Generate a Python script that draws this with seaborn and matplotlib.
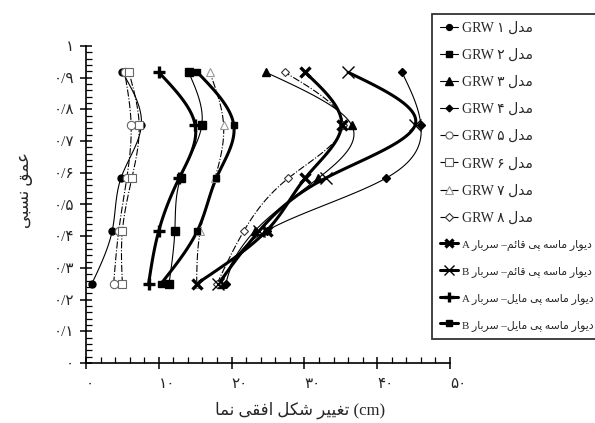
import numpy as np
import matplotlib
matplotlib.use('Agg')
import matplotlib.pyplot as plt
from matplotlib.lines import Line2D
from matplotlib.ticker import MultipleLocator
import seaborn as sns

# relative depth levels (same for every series)
depth = [0.25, 0.417, 0.583, 0.75, 0.917]

# horizontal facade deformation (cm), bottom -> top
grw1 = [0.8, 3.6, 4.8, 7.6, 5.0]
grw2 = [11.4, 12.2, 13.0, 15.9, 14.1]
grw3 = [18.6, 23.2, 31.9, 36.5, 24.7]
grw4 = [19.2, 24.8, 41.2, 46.0, 43.4]
grw5 = [3.8, 4.5, 5.6, 6.2, 5.3]
grw6 = [5.0, 5.0, 6.3, 7.3, 5.9]
grw7 = [15.2, 15.7, 17.7, 18.9, 17.0]
grw8 = [18.0, 21.7, 27.8, 35.3, 27.3]
vert_a = [15.2, 24.8, 30.1, 35.1, 30.1]
vert_b = [18.2, 23.8, 32.9, 45.2, 36.0]
slope_a = [8.6, 10.0, 12.8, 15.0, 10.0]
slope_b = [10.3, 15.3, 17.9, 20.3, 15.3]

x_ticks = [0, 10, 20, 30, 40, 50]
x_labels = ['۰', '۱۰', '۲۰', '۳۰', '۴۰', '۵۰']
y_ticks = [0, 0.1, 0.2, 0.3, 0.4, 0.5, 0.6, 0.7, 0.8, 0.9, 1.0]
y_labels = ['۰', '۰/۱', '۰/۲', '۰/۳', '۰/۴', '۰/۵', '۰/۶', '۰/۷', '۰/۸', '۰/۹', '۱']

# persian words in visual (left-to-right) order, presentation forms
MODEL = '\uFEDD\uFEAA\uFEE3'
SARBAR = '\uFEAD\uFE8E\uFE91\uFEAE\uFEB3'
QAEM = '\uFEE2\uFE8B\uFE8E\uFED7'
MAYEL = '\uFEDE\uFBFE\uFE8E\uFEE3'
PEY = '\uFBFD\uFB58'
MASEH = '\uFEEA\uFEB3\uFE8E\uFEE3'
DIVAR = '\uFEAD\uFE8E\uFEEE\uFBFE\uFEA9'
XLABEL = '\uFE8E\uFEE4\uFEE7 \uFBFD\uFED8\uFED3\uFE8D \uFEDE\uFB91\uFEB7 \uFEAE\uFBFF\uFBFF\uFED0\uFE97 (cm)'
YLABEL = '\uFBFD\uFE92\uFEB4\uFEE7 \uFED6\uFEE4\uFECB'


def wall_label(load, kind):
    return load + ' ' + SARBAR + ' \u2013' + kind + ' ' + PEY + ' ' + MASEH + ' ' + DIVAR


def spline(y, x, n=120):
    # natural cubic spline x(y), only used to draw the smooth curve
    y = np.asarray(y, float)
    x = np.asarray(x, float)
    m = len(y)
    h = np.diff(y)
    A = np.zeros((m, m))
    r = np.zeros(m)
    A[0, 0] = A[-1, -1] = 1
    for i in range(1, m - 1):
        A[i, i - 1] = h[i - 1]
        A[i, i] = 2 * (h[i - 1] + h[i])
        A[i, i + 1] = h[i]
        r[i] = 6 * ((x[i + 1] - x[i]) / h[i] - (x[i] - x[i - 1]) / h[i - 1])
    M = np.linalg.solve(A, r)
    yy = np.linspace(y[0], y[-1], n)
    k = np.clip(np.searchsorted(y, yy) - 1, 0, m - 2)
    t0 = y[k + 1] - yy
    t1 = yy - y[k]
    hk = h[k]
    xx = (M[k] * t0 ** 3 / (6 * hk) + M[k + 1] * t1 ** 3 / (6 * hk)
          + (x[k] / hk - M[k] * hk / 6) * t0 + (x[k + 1] / hk - M[k + 1] * hk / 6) * t1)
    return xx, yy


series = [
    (grw1, 'GRW ۱ ' + MODEL, '-', 0.8, 'o', 5, 'black', 'black', 1),
    (grw2, 'GRW ۲ ' + MODEL, '-', 0.8, 's', 5.5, 'black', 'black', 1),
    (grw3, 'GRW ۳ ' + MODEL, '-', 0.8, '^', 6, 'black', 'black', 1),
    (grw4, 'GRW ۴ ' + MODEL, '-', 0.8, 'D', 4, 'black', 'black', 1),
    (grw5, 'GRW ۵ ' + MODEL, '-.', 0.8, 'o', 6, 'white', '#666666', 0.8),
    (grw6, 'GRW ۶ ' + MODEL, '-.', 0.8, 's', 6, 'white', '#666666', 0.8),
    (grw7, 'GRW ۷ ' + MODEL, '-.', 0.8, '^', 6, 'white', '#999999', 0.8),
    (grw8, 'GRW ۸ ' + MODEL, '-.', 0.8, 'D', 4.5, 'white', '#333333', 0.8),
    (vert_a, wall_label('A', QAEM), '-', 2.2, 'x', 7, 'black', 'black', 2.4),
    (vert_b, wall_label('B', QAEM), '-', 2.2, 'x', 9, 'black', 'black', 1.0),
    (slope_a, wall_label('A', MAYEL), '-', 2.2, '+', 9, 'black', 'black', 2.4),
    (slope_b, wall_label('B', MAYEL), '-', 2.2, 's', 4.5, 'black', 'black', 1),
]

sns.set_style('ticks')
plt.rcParams['font.family'] = ['Liberation Serif', 'DejaVu Sans']

fig = plt.figure(figsize=(5.95, 4.23), dpi=100)
ax = fig.add_axes([86 / 595, 1 - 363 / 423, 364 / 595, 317 / 423])

handles = []
labels = []
for vals, label, ls, lw, mk, ms, mfc, mec, mew in series:
    xx, yy = spline(depth, vals)
    sns.lineplot(x=xx, y=yy, sort=False, estimator=None, ax=ax, color='black',
                 linestyle=ls, linewidth=lw, zorder=2)
    ax.plot(vals, depth, linestyle='none', marker=mk, markersize=ms,
            markerfacecolor=mfc, markeredgecolor=mec, markeredgewidth=mew, zorder=3)
    handles.append(Line2D([], [], color='black', linestyle=ls, linewidth=lw, marker=mk,
                          markersize=ms * 0.85, markerfacecolor=mfc, markeredgecolor=mec,
                          markeredgewidth=mew))
    labels.append(label)

ax.set_xlim(0, 50)
ax.set_ylim(0, 1)
sns.despine(ax=ax)
for s in ['left', 'bottom']:
    ax.spines[s].set_linewidth(1.2)
    ax.spines[s].set_color('black')

ax.set_xticks(x_ticks)
ax.set_xticklabels(x_labels, fontsize=11, ha='left')
ax.set_yticks(y_ticks)
ax.set_yticklabels(y_labels, fontsize=11)
ax.xaxis.set_minor_locator(MultipleLocator(2))
ax.yaxis.set_minor_locator(MultipleLocator(0.02))
ax.tick_params(which='major', direction='inout', length=9, width=1.1, color='black', pad=4)
ax.tick_params(which='minor', direction='in', length=4, width=0.9, color='black')
ax.tick_params(axis='x', which='major', pad=6)
ax.set_xlabel('')
ax.set_ylabel('')

fig.text(300 / 595, 1 - 410 / 423, XLABEL, ha='center', va='center', fontsize=12)
fig.text(25 / 595, 1 - 190 / 423, YLABEL, ha='center', va='center', fontsize=12, rotation=90)

leg = ax.legend(handles, labels, loc='upper left', bbox_to_anchor=(432 / 595, 1 - 14 / 423),
                bbox_transform=fig.transFigure, fontsize=10, frameon=True, fancybox=False,
                handlelength=1.3, handletextpad=0.3, borderpad=0.55, labelspacing=1.0,
                borderaxespad=0)
for t in leg.get_texts()[8:]:
    t.set_fontsize(7.8)
leg.get_frame().set_edgecolor('black')
leg.get_frame().set_linewidth(1.3)

fig.savefig('out.png', dpi=100)
